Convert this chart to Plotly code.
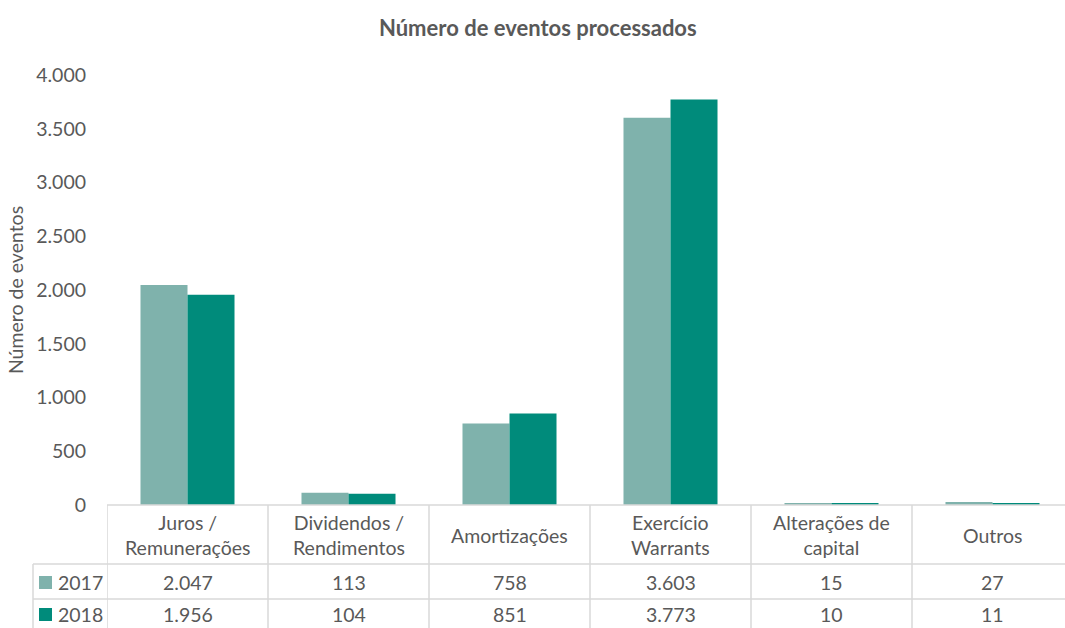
import plotly.graph_objects as go

categories = ["Juros /<br>Remunerações", "Dividendos /<br>Rendimentos", "Amortizações",
              "Exercício<br>Warrants", "Alterações de<br>capital", "Outros"]
series_names = ["2017", "2018"]
values_2017 = [2047, 113, 758, 3603, 15, 27]
values_2018 = [1956, 104, 851, 3773, 10, 11]
colors = ["#7FB2AC", "#008B7B"]

W, H = 1065, 628
L, R, T, B = 107, 0, 75, 123
PW = W - L - R
PH = H - T - B
TXT = "#595959"
GRID = "#D9D9D9"
FONT = "Lato"
FS = 19.5

def px(xp):
    return (xp - L) / PW

def py(yp):
    return (H - B - yp) / PH

def fmt(v):
    return f"{v:,}".replace(",", ".")

x_idx = list(range(len(categories)))
fig = go.Figure()
for name, vals, col in zip(series_names, [values_2017, values_2018], colors):
    fig.add_trace(go.Bar(x=x_idx, y=vals, name=name, marker=dict(color=col, line=dict(width=0))))

shapes = []
annotations = []
n = len(categories)
y_axis = py(505)
y_r1 = py(564)
y_r2 = py(599)
y_bot = py(640)
shapes.append(dict(type="line", xref="paper", yref="paper", x0=0, x1=1.02, y0=y_axis, y1=y_axis,
                   line=dict(color=GRID, width=1.5)))
for yy in [y_r1, y_r2]:
    shapes.append(dict(type="line", xref="paper", yref="paper", x0=px(33), x1=1.02, y0=yy, y1=yy,
                       line=dict(color=GRID, width=1.5)))
for k in range(n + 1):
    shapes.append(dict(type="line", xref="x", yref="paper", x0=k - 0.5, x1=k - 0.5, y0=y_axis, y1=y_bot,
                       line=dict(color=GRID, width=1.5)))
shapes.append(dict(type="line", xref="paper", yref="paper", x0=px(33), x1=px(33), y0=y_r1, y1=y_bot,
                   line=dict(color=GRID, width=1.5)))

for i, c in enumerate(categories):
    annotations.append(dict(x=i, y=py(535), xref="x", yref="paper", text=c, showarrow=False,
                            font=dict(family=FONT, size=FS, color=TXT), yanchor="middle"))
row_y = [582, 614]
for r, (name, vals, col) in enumerate(zip(series_names, [values_2017, values_2018], colors)):
    yc = row_y[r]
    for i, v in enumerate(vals):
        annotations.append(dict(x=i, y=py(yc), xref="x", yref="paper", text=fmt(v), showarrow=False,
                                font=dict(family=FONT, size=FS, color=TXT), yanchor="middle"))
    shapes.append(dict(type="rect", xref="paper", yref="paper", x0=px(39), x1=px(52),
                       y0=py(yc + 7), y1=py(yc - 6), fillcolor=col, line=dict(width=0)))
    annotations.append(dict(x=px(56), y=py(yc), xref="paper", yref="paper", text=name, showarrow=False,
                            xanchor="left", font=dict(family=FONT, size=FS, color=TXT), yanchor="middle"))

fig.update_layout(
    width=W, height=H,
    margin=dict(l=L, r=R, t=T, b=B),
    paper_bgcolor="white", plot_bgcolor="white",
    barmode="group", bargap=0.416, bargroupgap=0,
    separators=",.",
    showlegend=False,
    title=dict(text="<b>Número de eventos processados</b>", x=0.505, xanchor="center",
               y=1 - 28 / H, yanchor="middle", font=dict(family=FONT, size=22, color=TXT)),
    xaxis=dict(range=[-0.5, n - 0.5 - 8 / 161], showticklabels=False, showgrid=False,
               zeroline=False, showline=False, ticks=""),
    yaxis=dict(range=[0, 4000], dtick=500, tickformat=",d", showgrid=False, zeroline=False,
               showline=False, ticks="", ticklabelstandoff=20,
               tickfont=dict(family=FONT, size=FS, color=TXT),
               title=dict(text="Número de eventos", standoff=7,
                          font=dict(family=FONT, size=FS, color=TXT))),
    shapes=shapes,
    annotations=annotations,
)

fig.write_html("out.html", config={"displayModeBar": False},
               post_script="document.body.style.margin='0';document.body.style.padding='0';")
